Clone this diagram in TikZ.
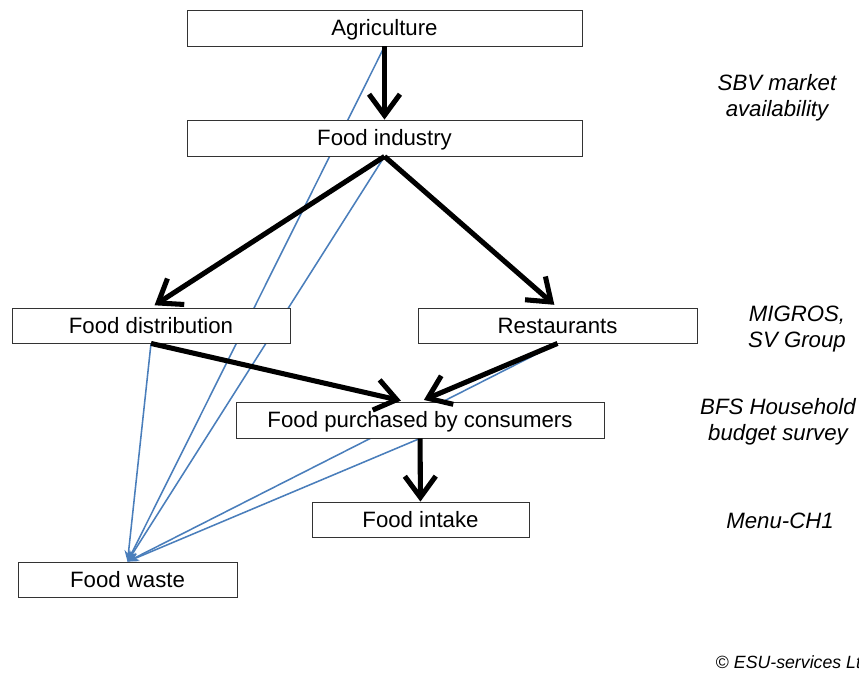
\documentclass[tikz,border=0pt]{standalone}
\usepackage{fontspec}
\setmainfont{Liberation Sans}
\usetikzlibrary{arrows.meta,backgrounds}
\definecolor{wblue}{RGB}{74,126,187}
\begin{document}
\begin{tikzpicture}[x=0.025cm,y=-0.025cm]
    \tikzset{%
        n/.style={draw=black!80, fill=white, line width=0.6pt, inner sep=0pt,
            minimum height=0.9cm, text height=11pt, text depth=0pt,
            font=\fontsize{15.8}{18.4}\selectfont},
        src/.style={align=center, font=\fontsize{15.8}{18.4}\selectfont\itshape},
        e/.style={line width=3.6pt, -{Straight Barb[length=15pt,width=22pt]}},
        w/.style={draw=wblue, line width=1.1pt, -{Stealth[length=8pt,width=6pt]}}%
        }
    \clip (0,0) rectangle (859,673);
    \node[n, minimum width=9.875cm](agri)at(384.5,28){Agriculture};
    \node[n, minimum width=9.875cm](ind)at(384.5,138){Food industry};
    \node[n, minimum width=6.95cm, minimum height=0.875cm](dist)at(151,325.5){Food distribution};
    \node[n, minimum width=6.975cm, minimum height=0.875cm](rest)at(557.5,325.5){Restaurants};
    \node[n, minimum width=9.2cm](purch)at(420,420){Food purchased by consumers};
    \node[n, minimum width=5.425cm, minimum height=0.875cm](intake)at(420.5,519.5){Food intake};
    \node[n, minimum width=5.475cm, minimum height=0.875cm](waste)at(127.5,579.5){Food waste};
    \node[src](sbv)at(777,98){SBV market\\availability};
    \node[src](migros)at(797,329){MIGROS,\\SV Group};
    \node[src](bfs)at(778,422){BFS Household\\budget survey};
    \node[src](menu)at(780,521){Menu-CH1};
    \node[anchor=west, font=\fontsize{12.6}{15}\selectfont\itshape](esu)at(711,662){\textup{©} ESU-services Ltd};
    \begin{pgfonlayer}{background}
    \path
    (agri.south)edge[w](waste.north)
    (ind.south)edge[w](waste.north)
    (dist.south)edge[w](waste.north)
    (rest.south)edge[w](waste.north)
    (purch.south)edge[w](waste.north);
    \end{pgfonlayer}
    \path
    (agri)edge[e](ind)
    (ind.south)edge[e, shorten >=3pt](dist.north)
    (ind.south)edge[e, shorten >=3pt](rest.north)
    (dist.south)edge[e, shorten >=3pt]([xshift=-0.375cm]purch.north)
    (rest.south)edge[e, shorten >=3pt](purch.north)
    (purch)edge[e](intake);
\end{tikzpicture}
\end{document}
